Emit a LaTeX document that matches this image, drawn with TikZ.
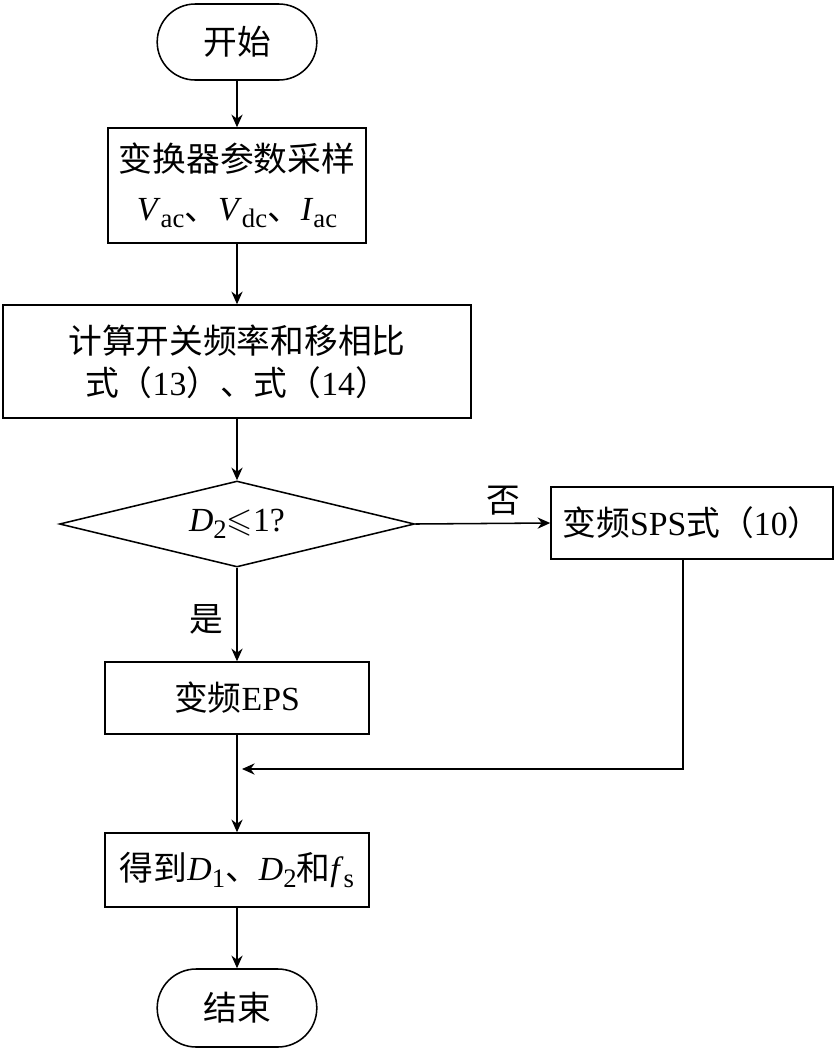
\documentclass[tikz,border=0pt]{standalone}
\usepackage{amssymb}
\usepackage{fontspec}
\setmainfont{Liberation Serif}
\newfontfamily\cjk{Noto Sans CJK SC}
\newcommand{\hz}[1]{{\cjk #1}}
\newcommand{\dn}[1]{\raisebox{-0.45ex}{\fontsize{19}{20}\selectfont #1}}
\usetikzlibrary{arrows.meta,shapes.geometric,shapes.misc}

\begin{document}
\begin{tikzpicture}[line width=1.1pt,>={Stealth[length=9pt,width=8pt]},
  font=\fontsize{24}{30}\selectfont,
  term/.style={draw,rounded rectangle,minimum width=4.225cm,minimum height=1.9cm},
  proc/.style={draw,rectangle,align=center,inner sep=0pt},
  cond/.style={draw,diamond,aspect=4.13,minimum width=8.875cm,minimum height=2.15cm,inner sep=0pt}]
\useasboundingbox (0,0) rectangle (20.85,-26.225);
% 开始
\node[term] (start) at (5.925,-1.05) {\hz{开始}};
% 参数采样
\node[proc,minimum width=6.45cm,minimum height=2.875cm] (sample) at (5.925,-4.6375)
  {\hz{变换器参数采样}\\[5pt]
   \textit{V}\dn{ac}\hz{、}\textit{V}\dn{dc}\hz{、}\textit{I}\dn{ac}};
% 计算开关频率和移相比
\node[proc,minimum width=11.7cm,minimum height=2.825cm] (calc) at (5.925,-9.0375)
  {\hz{计算开关频率和移相比}\\\hz{式（}13\hz{）、式（}14\hz{）}};
% 判断
\node[cond] (check) at (5.925,-13.1) {\textit{D}\dn{2}$\leqslant$1?};
% 两个分支
\node[proc,minimum width=7.05cm,minimum height=1.8cm] (sps) at (17.3,-13.075)
  {\hz{变频}SPS\hz{式（}10\hz{）}};
\node[proc,minimum width=6.6cm,minimum height=1.8cm] (eps) at (5.925,-17.45)
  {\hz{变频}EPS};
% 结果与结束
\node[proc,minimum width=6.6cm,minimum height=1.85cm] (result) at (5.925,-21.75)
  {\hz{得到}\textit{D}\dn{1}\hz{、}\textit{D}\dn{2}\hz{和}\textit{f}\dn{s}};
\node[term,minimum height=1.95cm] (stop) at (5.925,-25.2) {\hz{结束}};
% 汇合点
\coordinate (corner) at (17.075,-19.225);
\coordinate (join) at (6.05,-19.225);
% 连线
\draw[->] (start) -- (sample);
\draw[->] (sample) -- (calc);
\draw[->] (calc) -- (check);
\draw[->] (check.east) -- (sps.west) node[pos=0.65,above=2pt] {\hz{否}};
\draw[->] (check.south) -- (eps.north) node[pos=0.55,left=6pt] {\hz{是}};
\draw[->] (eps) -- (result);
\draw[->] (corner |- sps.south) -- (corner) -- (join);
\draw[->] (result) -- (stop);
\end{tikzpicture}
\end{document}
